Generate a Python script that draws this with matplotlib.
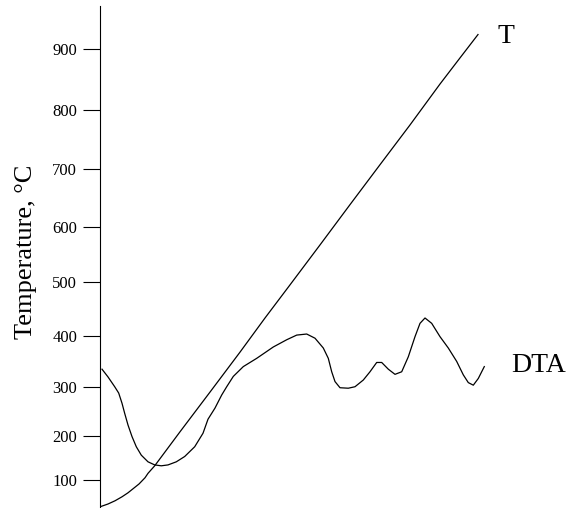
import numpy as np
import matplotlib
matplotlib.use("Agg")
import matplotlib.pyplot as plt

plt.rcParams['font.family'] = ['Liberation Serif', 'DejaVu Serif']

# tick labels of the (non-uniform) temperature axis and where they sit, in axis units
tick_temps = [100, 200, 300, 400, 500, 600, 700, 800, 900]
scale_temps = [0, 100, 200, 300, 400, 500, 600, 700, 800, 900, 1000]
scale_pos = [-12, 28, 72.3, 120.7, 172.3, 225.7, 281.3, 339, 398.3, 459, 521]

# heating curve T (time in arbitrary units, temperature in C)
t_time = [0, 8, 15, 22, 28, 33, 39, 45, 48, 54.7, 80, 110, 140, 165, 190,
          220, 250, 280, 310, 340, 360, 378]
t_temp = [33, 40, 48, 58, 68, 78, 90, 105, 115, 132, 208, 290, 368, 433, 495,
          567, 638, 707, 774, 842, 885, 923]

# DTA trace
dta_time = [2, 8, 14.7, 18.7, 22, 24.7, 28, 32, 36.3, 41.3, 48, 54.7, 61.3,
            68, 76.3, 84.7, 94.7, 103, 108, 115, 121.7, 126.7, 133.3, 143.3,
            156.7, 173.3, 186.7, 196.7, 206.7, 215, 223.3, 228.3, 231.7, 235,
            240, 248.3, 255, 263.3, 270, 276.7, 281.7, 288.3, 295, 301.7,
            308.3, 315, 320, 325, 331.7, 340, 348.3, 356.7, 363.3, 368.3,
            373.3, 378.3, 384.3]
dta_temp = [335, 320, 301, 288, 267, 246, 222, 198, 175, 156, 141, 134, 132,
            134, 141, 153, 175, 205, 234, 257, 284, 301, 321, 340,
            356, 378, 392, 401, 403, 395, 376, 356, 330, 311,
            299, 298, 301, 314, 330, 348, 348, 335, 325, 330,
            359, 398, 423, 433, 423, 398, 376, 350, 324, 309,
            304, 317, 340]


def fwd(t):
    return np.interp(t, scale_temps, scale_pos)


def inv(p):
    return np.interp(p, scale_pos, scale_temps)


fig = plt.figure(figsize=(5.73, 5.08), dpi=100)
ax = fig.add_axes([100 / 573, 0, 473 / 573, 502 / 508])
ax.set_yscale('function', functions=(fwd, inv))

ax.plot(t_time, t_temp, color='black', lw=0.9)
ax.plot(dta_time, dta_temp, color='black', lw=0.9)

ax.set_xlim(0, 473)
ax.set_ylim(30, 969)
ax.set_yticks(tick_temps)
ax.set_yticklabels([str(v) for v in tick_temps], fontsize=12)
ax.yaxis.set_minor_locator(matplotlib.ticker.NullLocator())
ax.tick_params(axis='y', direction='out', length=12, width=0.8, pad=4.5)
ax.set_xticks([])

for s in ['top', 'right', 'bottom']:
    ax.spines[s].set_visible(False)
ax.spines['left'].set_linewidth(0.8)

ax.set_ylabel('Temperature, °C', fontsize=19)
ax.yaxis.set_label_coords(26 / 573, 0.504, transform=fig.transFigure)
ax.yaxis.label.set_va('center')

fig.text(498 / 573, (508 - 43) / 508, 'T', fontsize=20, ha='left', va='baseline')
fig.text(511 / 573, (508 - 372) / 508, 'DTA', fontsize=20, ha='left', va='baseline')

fig.savefig('out.png', dpi=100)
